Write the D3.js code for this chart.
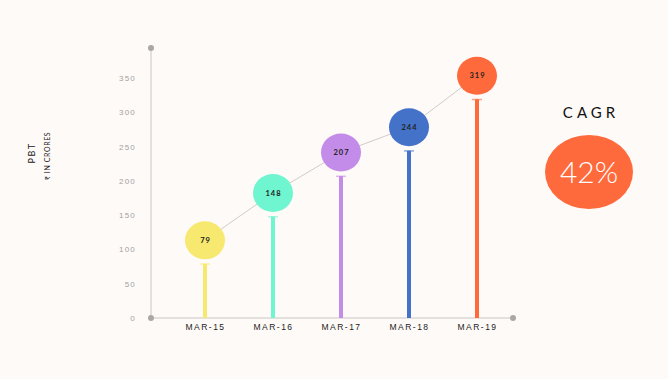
<!DOCTYPE html>
<html><head><meta charset="utf-8">
<script src="https://cdn.jsdelivr.net/npm/d3@7/dist/d3.min.js"></script>
<style>
html,body{margin:0;padding:0;background:#fefaf7;}
svg{display:block;font-family:Lato,"Open Sans",sans-serif;}
</style></head>
<body><svg id="c" width="668" height="379"></svg>
<script>
const categories = ["MAR-15","MAR-16","MAR-17","MAR-18","MAR-19"];
const values = [79,148,207,244,319];
const colors = ["#f7e96f","#6ff5cf","#c48ce9","#4472c9","#ff6a3c"];
const yTicks = [0,50,100,150,200,250,300,350];
const cagrLabel = "CAGR";
const cagrValue = "42%";

const svg = d3.select("#c");
const x = d3.scalePoint().domain(categories).range([205,477]);
const y = d3.scaleLinear().domain([0,350]).range([318,78]);
const x0 = 151, x1 = 513, yTop = 48;
const off = 23.5;

// axes
svg.append("line").attr("x1",x0).attr("x2",x0).attr("y1",yTop).attr("y2",y(0)).attr("stroke","#c8c6c4").attr("stroke-width",1);
svg.append("line").attr("x1",x0).attr("x2",x1).attr("y1",y(0)).attr("y2",y(0)).attr("stroke","#c8c6c4").attr("stroke-width",1);
[[x0,yTop],[x0,y(0)],[x1,y(0)]].forEach(p=>svg.append("circle").attr("cx",p[0]).attr("cy",p[1]).attr("r",3).attr("fill","#aaa8a6"));

const yAxis = d3.axisLeft(y).tickValues(yTicks).tickSize(0).tickPadding(15);
const gy = svg.append("g").attr("transform",`translate(${x0},0)`).call(yAxis);
gy.select(".domain").remove();
gy.selectAll("text").attr("fill","#a3a19f").attr("font-size",8).style("letter-spacing","1.2px");

const xAxis = d3.axisBottom(x).tickSize(0).tickPadding(6);
const gx = svg.append("g").attr("transform",`translate(0,${y(0)})`).call(xAxis);
gx.select(".domain").remove();
gx.selectAll("text").attr("fill","#222").attr("font-size",8.5).style("letter-spacing","1.5px");

// axis title
svg.append("text").attr("transform","translate(35,153) rotate(-90)").attr("text-anchor","middle")
  .attr("font-size",9).attr("fill","#222").style("letter-spacing","1.5px").text("PBT");
svg.append("text").attr("transform","translate(50,156) rotate(-90)").attr("text-anchor","middle")
  .attr("font-size",7).attr("fill","#222").style("letter-spacing","0.6px").text("₹ IN CRORES");

const data = categories.map((c,i)=>({c, v:values[i], col:colors[i]}));

// bars
svg.selectAll(".bar").data(data).enter().append("rect")
  .attr("x",d=>x(d.c)-2).attr("width",4).attr("y",d=>y(d.v)).attr("height",d=>y(0)-y(d.v)).attr("fill",d=>d.col);
svg.selectAll(".cap").data(data).enter().append("rect")
  .attr("x",d=>x(d.c)-5).attr("width",10).attr("y",d=>y(d.v)-0.5).attr("height",1.5).attr("fill",d=>d.col).attr("opacity",0.6);

// connecting line
const line = d3.line().x(d=>x(d.c)).y(d=>y(d.v)-off);
svg.append("path").datum(data).attr("d",line).attr("fill","none").attr("stroke","#cfcdcb").attr("stroke-width",1);

// bubbles
svg.selectAll(".bub").data(data).enter().append("ellipse")
  .attr("cx",d=>x(d.c)).attr("cy",d=>y(d.v)-off).attr("rx",20).attr("ry",19).attr("fill",d=>d.col);
svg.selectAll(".lbl").data(data).enter().append("text")
  .attr("x",d=>x(d.c)+0.5).attr("y",d=>y(d.v)-off).attr("dy","0.35em").attr("text-anchor","middle")
  .attr("font-size",7.5).attr("font-weight","bold").attr("fill","#222").style("letter-spacing","1px").text(d=>d.v);

// CAGR
svg.append("text").attr("x",591).attr("y",118).attr("text-anchor","middle").attr("font-size",15)
  .attr("fill","#111").style("letter-spacing","4px").text(cagrLabel);
svg.append("ellipse").attr("cx",589).attr("cy",172).attr("rx",44).attr("ry",37).attr("fill","#ff6a3c");
svg.append("text").attr("x",589).attr("y",172).attr("dy","0.36em").attr("text-anchor","middle").attr("font-size",30)
  .attr("font-weight",300).attr("fill","#fff").text(cagrValue);
</script></body></html>
